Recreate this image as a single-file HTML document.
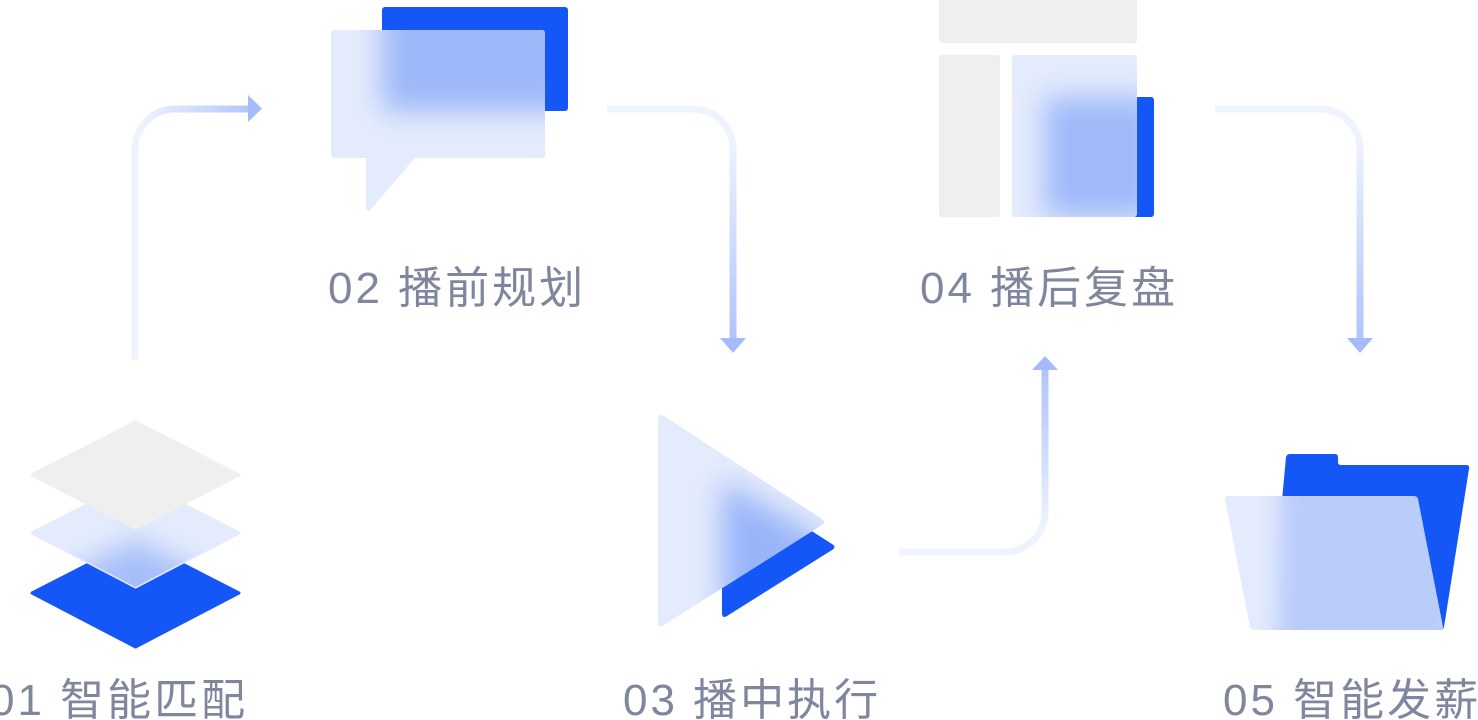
<!DOCTYPE html>
<html>
<head>
<meta charset="utf-8">
<style>
  html, body { margin: 0; padding: 0; background: #ffffff; }
  body { width: 1478px; height: 720px; overflow: hidden; }
  svg { display: block; }
  .lbl { font-family: "Liberation Sans", "Noto Sans CJK SC", sans-serif; font-size: 44px; letter-spacing: 3px; fill: #7f869e; }
</style>
</head>
<body>
<svg width="1478" height="720" viewBox="0 0 1478 720" xmlns="http://www.w3.org/2000/svg">
  <defs>
    <filter id="blur14" x="-60%" y="-60%" width="220%" height="220%">
      <feGaussianBlur stdDeviation="14"/>
    </filter>
    <filter id="blur10" x="-60%" y="-60%" width="220%" height="220%">
      <feGaussianBlur stdDeviation="10"/>
    </filter>

    <linearGradient id="g1" gradientUnits="userSpaceOnUse" x1="140" y1="0" x2="250" y2="0">
      <stop offset="0" stop-color="#eef3fe"/>
      <stop offset="1" stop-color="#b3c6fb"/>
    </linearGradient>
    <linearGradient id="g2" gradientUnits="userSpaceOnUse" x1="0" y1="140" x2="0" y2="340">
      <stop offset="0" stop-color="#eef3fe"/>
      <stop offset="1" stop-color="#b0c4fb"/>
    </linearGradient>
    <linearGradient id="g3" gradientUnits="userSpaceOnUse" x1="0" y1="530" x2="0" y2="370">
      <stop offset="0" stop-color="#eef3fe"/>
      <stop offset="1" stop-color="#b0c4fb"/>
    </linearGradient>

    <clipPath id="cDiamond">
      <polygon points="135.5,480 239,533 135.5,587 32,533"/>
    </clipPath>
    <clipPath id="cBubble">
      <path d="M334,30 H542 Q545,30 545,33 V155 Q545,158 542,158 H415 L371,209 Q366,213 366,207 V158 H334 Q331,158 331,155 V33 Q331,30 334,30 Z"/>
    </clipPath>
    <clipPath id="cTri">
      <path d="M658,419 Q658,413 664,416 L822,519 Q827,522 822,525 L664,625 Q658,629 658,623 Z"/>
    </clipPath>
    <clipPath id="cPanel">
      <rect x="1012" y="55" width="125" height="162" rx="3"/>
    </clipPath>
    <clipPath id="cFolder">
      <path d="M1228,496 H1414 Q1417,496 1418,499 L1443,627 Q1443,630 1440,630 H1254 Q1251,630 1250,627 L1225,499 Q1225,496 1228,496 Z"/>
    </clipPath>
  </defs>

  <!-- ============ Connectors ============ -->
  <path d="M135,360 V149 A40,40 0 0 1 175,109 H249" fill="none" stroke="url(#g1)" stroke-width="7"/>
  <polygon points="248,95 262,108.5 248,122" fill="#a6bbfb"/>

  <path d="M607,109 H693 A40,40 0 0 1 733,149 V339" fill="none" stroke="url(#g2)" stroke-width="7"/>
  <polygon points="720,338 746,338 733,353" fill="#a6bbfb"/>

  <path d="M899,552 H1005 A40,40 0 0 0 1045,512 V369" fill="none" stroke="url(#g3)" stroke-width="7"/>
  <polygon points="1032,370 1058,370 1045,356" fill="#a6bbfb"/>

  <path d="M1215,109 H1320 A40,40 0 0 1 1360,149 V339" fill="none" stroke="url(#g2)" stroke-width="7"/>
  <polygon points="1347,338 1373,338 1360,353" fill="#a6bbfb"/>

  <!-- ============ Icon 1: layers ============ -->
  <polygon points="135.5,540 239,593 135.5,647 32,593" fill="#1557f6" stroke="#1557f6" stroke-width="3" stroke-linejoin="round"/>
  <polygon points="135.5,480 239,533 135.5,587 32,533" fill="#e4ebfc" stroke="#e4ebfc" stroke-width="3" stroke-linejoin="round"/>
  <g clip-path="url(#cDiamond)">
    <polygon points="135.5,540 239,593 135.5,647 32,593" fill="#1557f6" opacity="0.30" filter="url(#blur14)"/>
  </g>
  <polygon points="135.5,422 239,475 135.5,528 32,475" fill="#efefef" stroke="#efefef" stroke-width="3" stroke-linejoin="round"/>

  <!-- ============ Icon 2: chat bubble ============ -->
  <rect x="382" y="7" width="186" height="104" rx="3" fill="#1557f6"/>
  <path d="M334,30 H542 Q545,30 545,33 V155 Q545,158 542,158 H415 L371,209 Q366,213 366,207 V158 H334 Q331,158 331,155 V33 Q331,30 334,30 Z" fill="#e4ebfc"/>
  <g clip-path="url(#cBubble)">
    <rect x="382" y="7" width="186" height="104" fill="#1557f6" opacity="0.34" filter="url(#blur14)"/>
  </g>

  <!-- ============ Icon 3: play ============ -->
  <path d="M722,480 Q722,474 727,477 L832,544 Q837,547 832,550 L727,616 Q722,619 722,613 Z" fill="#1557f6"/>
  <path d="M658,419 Q658,413 664,416 L822,519 Q827,522 822,525 L664,625 Q658,629 658,623 Z" fill="#e4ebfc"/>
  <g clip-path="url(#cTri)">
    <path d="M722,480 L836,547 L722,618 Z" fill="#1557f6" opacity="0.36" filter="url(#blur14)"/>
  </g>

  <!-- ============ Icon 4: layout ============ -->
  <rect x="939" y="-4" width="198" height="47" rx="3" fill="#efefef"/>
  <rect x="939" y="55" width="61" height="162" rx="3" fill="#efefef"/>
  <rect x="1045" y="97" width="109" height="120" rx="3" fill="#1557f6"/>
  <rect x="1012" y="55" width="125" height="162" rx="3" fill="#e4ebfc"/>
  <g clip-path="url(#cPanel)">
    <rect x="1045" y="97" width="109" height="120" fill="#1557f6" opacity="0.33" filter="url(#blur14)"/>
  </g>

  <!-- ============ Icon 5: folder ============ -->
  <path d="M1290,454 H1335 Q1338,454 1338,457 V462 Q1338,465 1341,465 H1466 Q1470,465 1469,469 L1444,627 Q1443,630 1440,630 H1300 L1282,500 L1286,457 Q1287,454 1290,454 Z" fill="#1557f6"/>
  <path d="M1228,496 H1414 Q1417,496 1418,499 L1443,627 Q1443,630 1440,630 H1254 Q1251,630 1250,627 L1225,499 Q1225,496 1228,496 Z" fill="#e4ebfc"/>
  <g clip-path="url(#cFolder)">
    <polygon points="1280,470 1480,470 1450,660 1276,660" fill="#1557f6" opacity="0.2" filter="url(#blur10)"/>
  </g>

  <!-- ============ Labels ============ -->
  <text class="lbl" x="-10" y="715">01 智能匹配</text>
  <text class="lbl" x="328" y="303">02 播前规划</text>
  <text class="lbl" x="623" y="715">03 播中执行</text>
  <text class="lbl" x="920" y="303">04 播后复盘</text>
  <text class="lbl" x="1223" y="715">05 智能发薪</text>
</svg>
</body>
</html>
